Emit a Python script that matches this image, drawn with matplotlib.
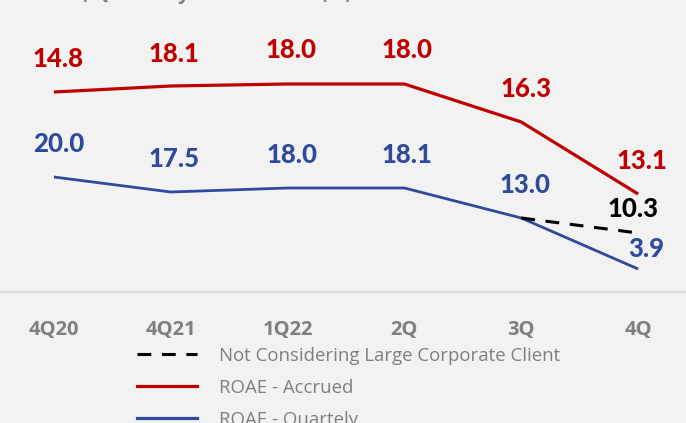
"""ROAE chart: accrued vs quarterly, with the large corporate client adjustment."""

import matplotlib

matplotlib.use("Agg")
import matplotlib.pyplot as plt
from matplotlib.lines import Line2D

# categories and values
quarters = ["4Q20", "4Q21", "1Q22", "2Q", "3Q", "4Q"]

# line heights as drawn in the picture (the source chart does not scale them to the labels)
accrued_line = [20.0, 20.6, 20.8, 20.8, 17.0, 9.8]
quarterly_line = [11.5, 10.0, 10.4, 10.4, 7.4, 2.3]
adjusted_line = [7.4, 5.9]  # 3Q -> 4Q

# labels printed on the chart
accrued_labels = ["14.8", "18.1", "18.0", "18.0", "16.3", "13.1"]
quarterly_labels = ["20.0", "17.5", "18.0", "18.1", "13.0", "3.9"]
adjusted_label = "10.3"

legend_labels = [
    "Not Considering Large Corporate Client",
    "ROAE - Accrued",
    "ROAE - Quartely",
]

BG = "#f2f2f2"
RED = "#c00000"
BLUE = "#2e4a9e"
GRAY = "#7f7f7f"

fig = plt.figure(figsize=(6.86, 4.23), dpi=100, facecolor=BG)
ax = fig.add_axes([0, 131 / 423, 1, 292 / 423])
ax.set_facecolor(BG)

x = list(range(len(quarters)))
ax.plot(x, accrued_line, color=RED, lw=2.3, solid_capstyle="butt")
ax.plot(x, quarterly_line, color=BLUE, lw=2.0, solid_capstyle="butt")
ax.plot(x[-2:], adjusted_line, color="black", lw=2.2, dashes=(4.5, 3.5))

ax.set_xlim(-0.462, 5.41)
ax.set_ylim(0, 29.2)

label_font = dict(family="Lato", fontsize=18.5, fontweight="black", ha="center", va="center")
red_offsets = [(4, 33), (3, 32), (3, 34), (3, 34), (5, 33), (4, 33)]
blue_offsets = [(5, 33), (3, 33), (4, 33), (3, 33), (4, 33), (8, 20)]
for xi, yi, txt, off in zip(x, accrued_line, accrued_labels, red_offsets):
    ax.annotate(txt, (xi, yi), xytext=off, textcoords="offset pixels", color=RED, **label_font)
for xi, yi, txt, off in zip(x, quarterly_line, quarterly_labels, blue_offsets):
    ax.annotate(txt, (xi, yi), xytext=off, textcoords="offset pixels", color=BLUE, **label_font)
ax.annotate(adjusted_label, (x[-1], adjusted_line[-1]), xytext=(-5, 24),
            textcoords="offset pixels", color="black", **label_font)

for side in ["top", "left", "right"]:
    ax.spines[side].set_visible(False)
ax.spines["bottom"].set_color("#d9d9d9")
ax.spines["bottom"].set_linewidth(1.5)
ax.set_yticks([])
ax.set_xticks(x, labels=quarters)
ax.tick_params(axis="x", length=0, pad=20, labelsize=14.5, labelcolor=GRAY)
for lbl in ax.get_xticklabels():
    lbl.set_fontweight("bold")
    lbl.set_fontfamily("Open Sans")

# title line is mostly cut off at the top of the picture
fig.text(0.045, 1 + 1.5 / 423, "ROAE, Quarterly and Accrued (%)", color=GRAY,
         fontsize=14, fontweight="bold", family="Open Sans", va="baseline")

handles = [
    Line2D([], [], color="black", lw=2.2, dashes=(4.5, 3.5)),
    Line2D([], [], color=RED, lw=2.3),
    Line2D([], [], color=BLUE, lw=2.3),
]
leg = fig.legend(handles, legend_labels, loc="upper left", bbox_to_anchor=(137 / 686, 1 - 347 / 423),
                 frameon=False, borderpad=0, borderaxespad=0, handlelength=3.2, handletextpad=1.2,
                 labelspacing=0.75, prop={"family": "Open Sans", "size": 13.4})
for t in leg.get_texts():
    t.set_color(GRAY)

fig.savefig("out.png", dpi=100, facecolor=BG)
